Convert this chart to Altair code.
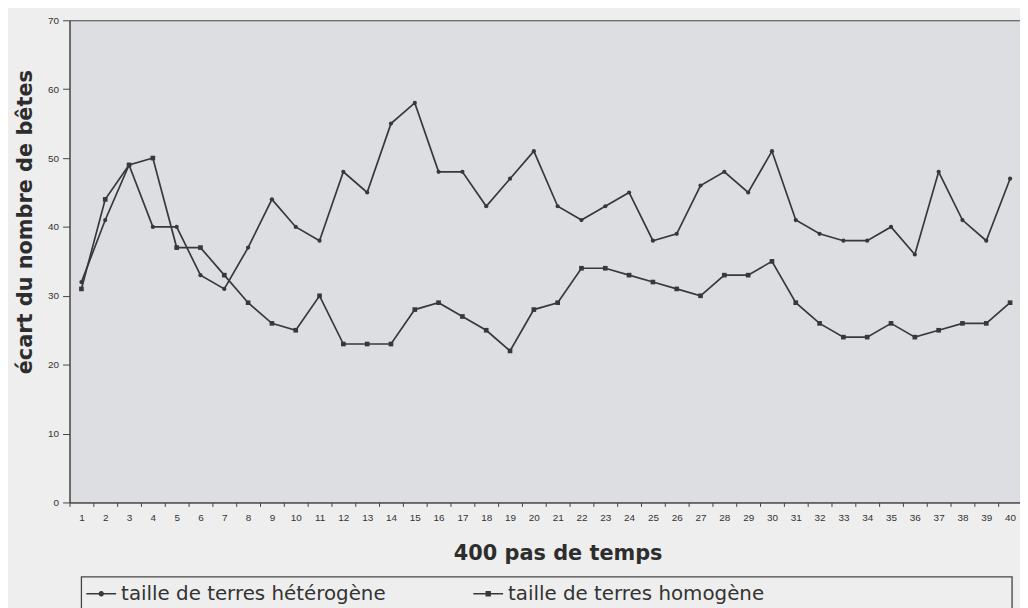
import altair as alt
import pandas as pd

steps = list(range(1, 41))
hetero = [32, 41, 49, 40, 40, 33, 31, 37, 44, 40, 38, 48, 45, 55, 58, 48, 48, 43, 47, 51,
          43, 41, 43, 45, 38, 39, 46, 48, 45, 51, 41, 39, 38, 38, 40, 36, 48, 41, 38, 47]
homo = [31, 44, 49, 50, 37, 37, 33, 29, 26, 25, 30, 23, 23, 23, 28, 29, 27, 25, 22, 28,
        29, 34, 34, 33, 32, 31, 30, 33, 33, 35, 29, 26, 24, 24, 26, 24, 25, 26, 26, 29]
series_names = ["taille de terres hétérogène", "taille de terres homogène"]

df = pd.DataFrame({
    "pas": steps * 2,
    "ecart": hetero + homo,
    "serie": [series_names[0]] * 40 + [series_names[1]] * 40,
})

INK = "#383838"

x_enc = alt.X(
    "pas:O",
    bandPosition=0.5,
    scale=alt.Scale(type="band", paddingInner=0, paddingOuter=0, range=[0, 960]),
    sort=steps,
    axis=alt.Axis(
        title="400 pas de temps",
        labelAngle=0,
        tickBand="extent",
        tickSize=4,
        labelFont="Liberation Sans",
        labelFontSize=10,
        labelColor="#333333",
        labelPadding=6,
        domainColor="#444444",
        tickColor="#444444",
        titleFont="DejaVu Sans",
        titleFontSize=21,
        titleFontWeight="bold",
        titleColor="#2d2d2d",
        titleX=492,
        titleY=57,
        titleBaseline="alphabetic",
        titleAlign="center",
    ),
)

y_enc = alt.Y(
    "ecart:Q",
    scale=alt.Scale(domain=[0, 70], nice=False),
    axis=alt.Axis(
        title="écart du nombre de bêtes",
        values=[0, 10, 20, 30, 40, 50, 60, 70],
        tickSize=7,
        grid=False,
        labelFont="Liberation Sans",
        labelFontSize=10,
        labelColor="#333333",
        labelPadding=4,
        domainColor="#444444",
        tickColor="#444444",
        titleFont="DejaVu Sans",
        titleFontSize=21,
        titleFontWeight="bold",
        titleColor="#2d2d2d",
        titleX=-38,
        titleY=203,
        titleBaseline="alphabetic",
        titleAlign="center",
    ),
)

base = alt.Chart(df)

lines = base.mark_line(color=INK, strokeWidth=1.7).encode(
    x=x_enc, y=y_enc, detail="serie:N"
)

pts_het = base.transform_filter(alt.datum.serie == series_names[0]).mark_circle(
    color=INK, size=18, opacity=1
).encode(x=x_enc, y=y_enc)

pts_hom = base.transform_filter(alt.datum.serie == series_names[1]).mark_square(
    color=INK, size=22, opacity=1
).encode(x=x_enc, y=y_enc)

# legend glyphs: a thin filled bar (the line) plus the marker
sym_het = ("M-1,-0.05L1,-0.05L1,0.05L-1,0.05Z"
           "M0.18,0A0.18,0.18 0 1,1 -0.18,0A0.18,0.18 0 1,1 0.18,0Z")
sym_hom = ("M-1,-0.05L1,-0.05L1,0.05L-1,0.05Z"
           "M-0.18,-0.18L0.18,-0.18L0.18,0.18L-0.18,0.18Z")

legend_layer = base.mark_point(
    opacity=0, filled=True, color=INK
).encode(
    x=x_enc,
    y=y_enc,
    shape=alt.Shape(
        "serie:N",
        scale=alt.Scale(domain=series_names, range=[sym_het, sym_hom]),
        legend=alt.Legend(
            title=None,
            orient="none",
            legendX=17,
            legendY=563,
            direction="horizontal",
            symbolSize=900,
            symbolFillColor=INK,
            symbolStrokeColor=INK,
            symbolStrokeWidth=0,
            symbolOpacity=1,
            labelFont="DejaVu Sans",
            labelFontSize=20,
            labelColor="#333333",
            labelOffset=5,
            columnPadding=88,
            padding=0,
            labelLimit=400,
        ),
    ),
)

frame = alt.Chart(pd.DataFrame({"k": [0]})).mark_rect(
    filled=False, stroke="#444444", strokeWidth=1.3
).encode(
    x=alt.value(12), x2=alt.value(950), y=alt.value(561), y2=alt.value(640)
)

chart = alt.layer(lines, pts_het, pts_hom, legend_layer, frame).properties(
    width=958,
    height=486,
    autosize=alt.AutoSizeParams(type="none"),
    padding={"left": 62, "top": 10, "right": 0, "bottom": 104},
    background="#eeeeee",
).configure_view(
    fill="#dcdee2", stroke="#444444", strokeWidth=1
)

chart.save("out.html", embed_options={"renderer": "svg", "actions": False})
